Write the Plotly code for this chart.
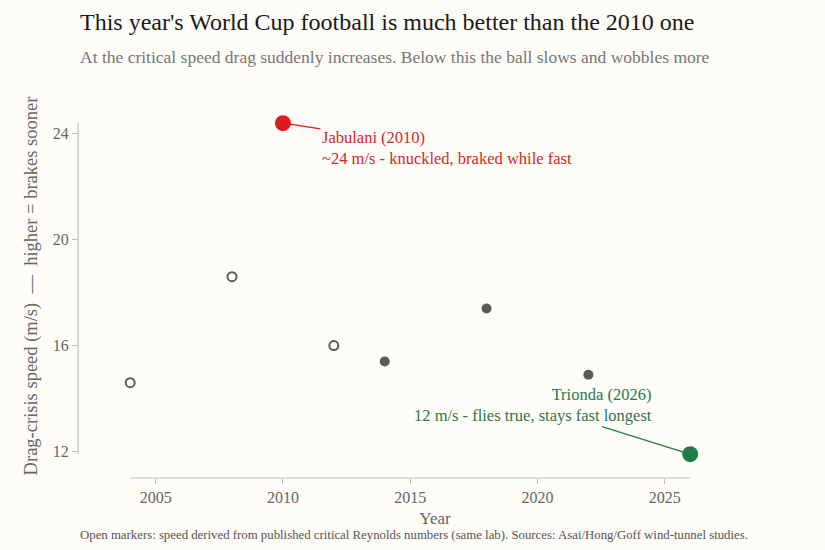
import plotly.graph_objects as go

# ball data: year, drag-crisis speed (m/s)
years = [2004, 2008, 2010, 2012, 2014, 2018, 2022, 2026]
speeds = [14.6, 18.6, 24.4, 16.0, 15.4, 17.4, 14.9, 11.9]
balls = ["Roteiro", "Europass", "Jabulani", "Tango 12", "Brazuca", "Telstar 18", "Al Rihla", "Trionda"]
derived = [True, True, False, True, False, False, False, False]  # open markers
y_ticks = [12, 16, 20, 24]
x_ticks = [2005, 2010, 2015, 2020, 2025]

BG = "#fdfcf6"
FONT = "Liberation Serif"
GREY = "#5b5b5b"
RED = "#e01a1f"
GREEN = "#237a4b"

fig = go.Figure()

open_idx = [i for i, d in enumerate(derived) if d]
fill_idx = [i for i, d in enumerate(derived) if not d and balls[i] not in ("Jabulani", "Trionda")]

fig.add_trace(go.Scatter(
    x=[years[i] for i in open_idx], y=[speeds[i] for i in open_idx],
    text=[balls[i] for i in open_idx], mode="markers",
    marker=dict(size=9, color=BG, line=dict(width=2, color=GREY)),
    hovertemplate="%{text} (%{x}): %{y} m/s<extra></extra>",
))
fig.add_trace(go.Scatter(
    x=[years[i] for i in fill_idx], y=[speeds[i] for i in fill_idx],
    text=[balls[i] for i in fill_idx], mode="markers",
    marker=dict(size=10, color=GREY),
    hovertemplate="%{text} (%{x}): %{y} m/s<extra></extra>",
))

jab = balls.index("Jabulani")
tri = balls.index("Trionda")
fig.add_trace(go.Scatter(
    x=[years[jab]], y=[speeds[jab]], mode="markers",
    marker=dict(size=16, color=RED), hoverinfo="skip",
))
fig.add_trace(go.Scatter(
    x=[years[tri]], y=[speeds[tri]], mode="markers",
    marker=dict(size=16, color=GREEN), hoverinfo="skip",
))

# callouts
fig.add_annotation(
    x=years[jab], y=speeds[jab], ax=164, ay=25,
    text="Jabulani (2010)<br>~24 m/s - knuckled, braked while fast",
    align="left", showarrow=True, arrowhead=0, arrowwidth=1.2,
    arrowcolor=RED, standoff=7, font=dict(family=FONT, size=16.5, color="#d02a2a"),
)
fig.add_annotation(
    x=years[tri], y=speeds[tri], ax=-157, ay=-49,
    text="Trionda (2026)<br>12 m/s - flies true, stays fast longest",
    align="right", showarrow=True, arrowhead=0, arrowwidth=1.2,
    arrowcolor=GREEN, standoff=7, bgcolor=BG,
    font=dict(family=FONT, size=16.5, color="#2f7550"),
)

# range-frame axis lines spanning only the data
fig.add_shape(type="line", xref="x", yref="paper",
              x0=min(years), x1=max(years), y0=0, y1=0,
              line=dict(color="#bdbdbd", width=1.2))
fig.add_shape(type="line", xref="paper", yref="y",
              x0=0, x1=0, y0=min(speeds), y1=max(speeds),
              line=dict(color="#bdbdbd", width=1.2))

# title, subtitle, footer
fig.add_annotation(xref="paper", yref="paper", x=0, y=1.1875, xanchor="left", yanchor="middle",
                   text="This year's World Cup football is much better than the 2010 one",
                   showarrow=False, font=dict(family=FONT, size=24, color="#1a1a1a"))
fig.add_annotation(xref="paper", yref="paper", x=0, y=1.0964, xanchor="left", yanchor="middle",
                   text="At the critical speed drag suddenly increases. Below this the ball slows and wobbles more",
                   showarrow=False, font=dict(family=FONT, size=17.5, color="#777777"))
fig.add_annotation(xref="paper", yref="paper", x=0, y=-0.1484, xanchor="left", yanchor="middle",
                   text="Open markers: speed derived from published critical Reynolds numbers (same lab). "
                        "Sources: Asai/Hong/Goff wind-tunnel studies.",
                   showarrow=False, font=dict(family=FONT, size=12.8, color="#555555"))

fig.update_layout(
    width=825, height=550,
    paper_bgcolor=BG, plot_bgcolor=BG,
    showlegend=False,
    margin=dict(l=78, r=33, t=94, b=72),
    font=dict(family=FONT, color="#666666"),
    xaxis=dict(
        range=[2001.95, 2030], tickvals=x_ticks, showgrid=False, zeroline=False,
        showline=False, ticks="outside", ticklen=5, tickcolor="#bdbdbd",
        tickfont=dict(size=16, color="#666666"),
        title=dict(text="Year", font=dict(size=17, color="#666666"), standoff=6),
    ),
    yaxis=dict(
        range=[11, 25.5], tickvals=y_ticks, showgrid=False, zeroline=False,
        showline=False, ticks="outside", ticklen=5, tickcolor="#bdbdbd",
        tickfont=dict(size=16, color="#666666"),
        title=dict(text="Drag-crisis speed (m/s)  —  higher = brakes sooner",
                   font=dict(size=18.5, color="#666666"), standoff=10),
    ),
)

fig.write_html("out.html", config={"displayModeBar": False},
               post_script="document.body.style.margin='0';")
